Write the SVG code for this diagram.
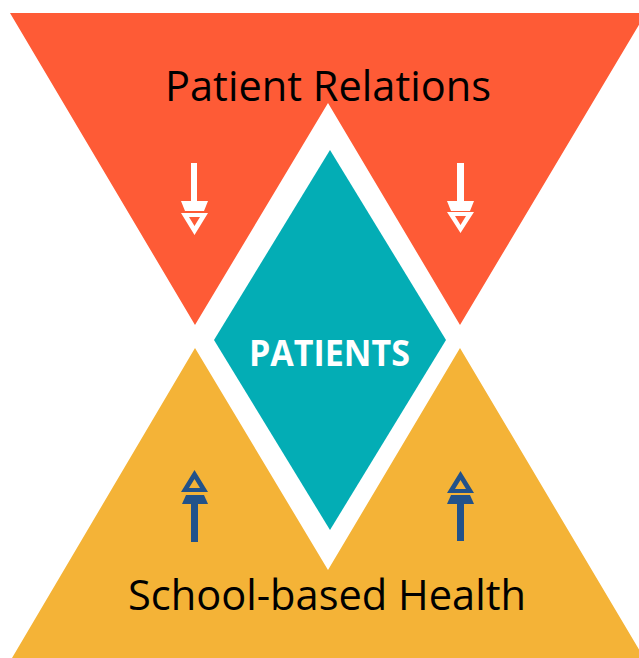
<svg xmlns="http://www.w3.org/2000/svg" width="639" height="658" viewBox="0 0 639 658">
<style>
.lbl{font-family:"Open Sans","Noto Sans","Liberation Sans",sans-serif;fill:#000;font-size:42px}
.ctr{font-family:"Open Sans","Noto Sans","Liberation Sans",sans-serif;fill:#fff;font-size:36px;font-weight:bold}
.up{fill:#22528A}
.down{fill:#fff}
</style>
<rect width="639" height="658" fill="#fff"/>
<g id="patient-relations">
<polygon points="10,13 646,13 460,325 328,103 195,325" fill="#FE5B36"/>
<text class="lbl" x="165" y="101" textLength="326" lengthAdjust="spacingAndGlyphs">Patient Relations</text>
</g>
<g id="school-based-health">
<polygon points="12,658 195,348 328,570 460,348 644,658" fill="#F4B337"/>
<text class="lbl" x="128" y="610" textLength="398" lengthAdjust="spacingAndGlyphs">School-based Health</text>
</g>
<g id="patients">
<polygon points="330,150 446,340 330,530 214,340" fill="#03ADB5"/>
<text class="ctr" x="249" y="366" textLength="161" lengthAdjust="spacingAndGlyphs">PATIENTS</text>
</g>
<g id="connectors">
<g class="down">
<rect x="191" y="163" width="6" height="39"/>
<polygon points="181,201 208,201 204,211 185,211"/>
<path fill-rule="evenodd" d="M181,213 L208,213 L194.5,235 Z M189,217 L200,217 L194.5,226 Z"/>
<rect x="457" y="163" width="7" height="39"/>
<polygon points="447,201 474,201 470,211 451,211"/>
<path fill-rule="evenodd" d="M447,212 L474,212 L460.5,233 Z M455,216 L466,216 L460.5,225 Z"/>
</g>
<g class="up">
<rect x="191" y="504" width="7" height="38"/>
<polygon points="182,504 208,504 204,495 186,495"/>
<path fill-rule="evenodd" d="M194.5,470 L208,492 L181,492 Z M194.5,479 L200,488 L189,488 Z"/>
<rect x="457" y="504" width="7" height="37"/>
<polygon points="447,504 474,504 470,495 451,495"/>
<path fill-rule="evenodd" d="M460.5,471 L474,493 L447,493 Z M460.5,480 L466,489 L455,489 Z"/>
</g>
</g>
</svg>
